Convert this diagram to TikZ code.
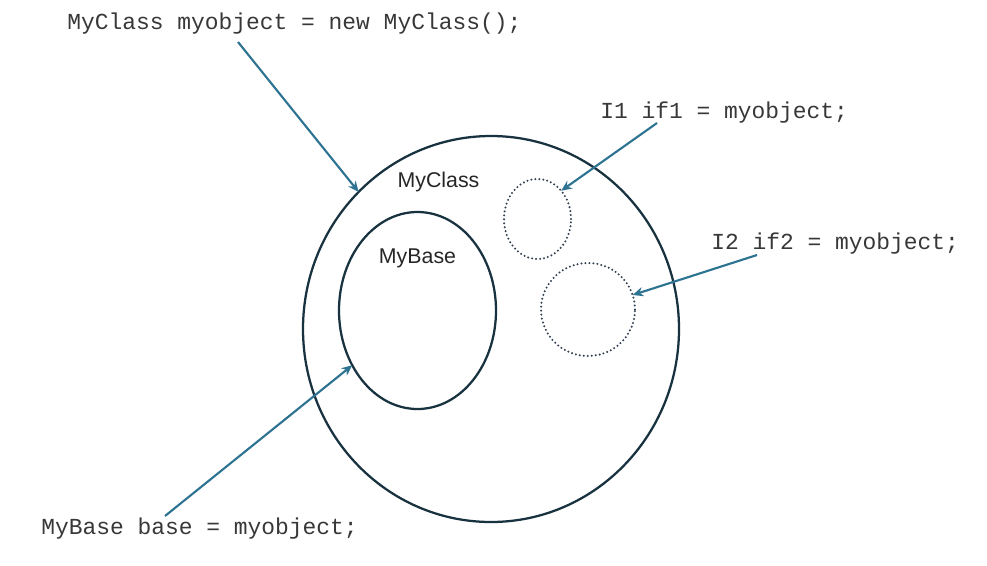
\documentclass[tikz,border=0pt]{standalone}
\usepackage{fontspec}
\setmainfont{Liberation Sans}
\setmonofont{Liberation Mono}
\usetikzlibrary{shapes.geometric,arrows.meta}
\definecolor{ringcol}{RGB}{24,50,64}
\definecolor{dotcol}{RGB}{52,66,82}
\definecolor{arrowcol}{RGB}{46,116,146}

\begin{document}
\begin{tikzpicture}[x=0.75pt,y=0.75pt,yscale=-1,xscale=1,
  ring/.style={ellipse,draw=ringcol,line width=1.7pt,inner sep=0pt,outer sep=0pt},
  dotring/.style={ellipse,draw=dotcol,line width=1.7pt,dash pattern=on 0pt off 3pt,line cap=round,inner sep=0pt,outer sep=0pt},
  code/.style={font=\ttfamily\fontsize{17.2}{20}\selectfont,inner sep=0pt,anchor=base west,text=black!78},
  title/.style={font=\fontsize{16}{19}\selectfont,inner sep=0pt,anchor=base,text=black!85},
  pointer/.style={draw=arrowcol,line width=1.6pt,-{Stealth[length=8pt,width=7pt]}}]
\useasboundingbox (0,0) rectangle (987,565);

%Shape: Ellipse [MyClass]
\node [ring,minimum width=282pt,minimum height=289.5pt] (myclass) at (491,329) {};
%Shape: Ellipse [MyBase]
\node [ring,minimum width=117.75pt,minimum height=147.75pt] (mybase) at (417.5,310.5) {};
%Shape: Ellipse [I1]
\node [dotring,minimum width=50.25pt,minimum height=60pt] (ifone) at (537.5,219) {};
%Shape: Ellipse [I2]
\node [dotring,minimum width=70.5pt,minimum height=69.75pt] (iftwo) at (588,309.5) {};

% Text Node
\node [title] (classlbl) at (438.5,187) {MyClass};
% Text Node
\node [title] (baselbl) at (417.5,263) {MyBase};

% Text Node
\node [code] (newobj) at (67,29) {MyClass myobject = new MyClass();};
% Text Node
\node [code] (ifonetxt) at (600,118) {I1 if1 = myobject;};
% Text Node
\node [code] (iftwotxt) at (711,249) {I2 if2 = myobject;};
% Text Node
\node [code] (basetxt) at (41,534) {MyBase base = myobject;};

%Straight Lines [arrow tails]
\coordinate (newtail) at (238,42);
\coordinate (ifonetail) at (657,123);
\coordinate (iftwotail) at (757,255);
\coordinate (basetail) at (165,516);

\draw [pointer] (newtail) -- (myclass.134);
\draw [pointer] (ifonetail) -- (ifone.50);
\draw [pointer] (iftwotail) -- (iftwo.18);
\draw [pointer] (basetail) -- (mybase.220);

\end{tikzpicture}
\end{document}
